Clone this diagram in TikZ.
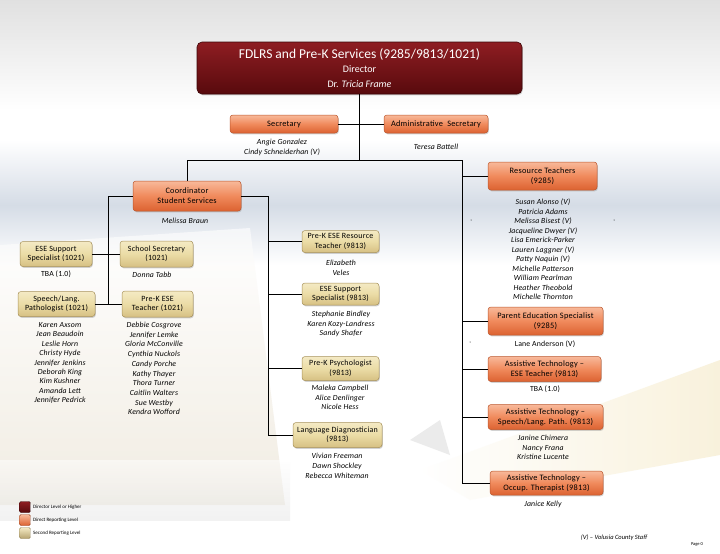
\documentclass[tikz,border=0pt]{standalone}
\usepackage{fontspec}
\setmainfont{Carlito}
\newfontfamily\boxfont[LetterSpace=3]{Carlito}
\newfontfamily\namefont[LetterSpace=2]{Carlito}
\usetikzlibrary{shadows}
\definecolor{dirtop}{HTML}{8E1D22}
\definecolor{dirbot}{HTML}{580A0D}
\definecolor{ortop}{HTML}{F8B99A}
\definecolor{ormid}{HTML}{F08A5C}
\definecolor{orbot}{HTML}{DC6231}
\definecolor{ordraw}{HTML}{BC562C}
\definecolor{tantop}{HTML}{F4EAC4}
\definecolor{tanmid}{HTML}{EBDCA6}
\definecolor{tanbot}{HTML}{D6C083}
\definecolor{tandraw}{HTML}{A8925A}
\definecolor{bandblue}{HTML}{D5DCE6}
\definecolor{pagebeige}{HTML}{E8E0CF}
\definecolor{pencil}{HTML}{F4E7C0}
\newcommand\namelist[6][nm]{%
  \foreach \nmx [count=\i] in {#6} {\node[#1] (#2-\i) at (#3, #4+#5*\i-#5) {\nmx};}}
\begin{document}
\begin{tikzpicture}[x=1pt,y=-1pt,
  sz/.style 2 args={minimum width=#1pt,minimum height=#2pt},
  basebox/.style={rounded corners=3pt, inner sep=0pt, align=center,
    drop shadow={shadow xshift=0.8pt,shadow yshift=-1.3pt,opacity=0.35}},
  dirbox/.style={basebox, rounded corners=5pt, draw=dirbot!70!black, line width=0.6pt,
    top color=dirtop, bottom color=dirbot, text=white, font=\fontsize{10}{14.5}\selectfont},
  obox/.style={basebox, draw=ordraw, line width=0.5pt, top color=ortop, bottom color=orbot,
    middle color=ormid, font=\boxfont\fontsize{8.3}{10}\selectfont},
  tbox/.style={basebox, draw=tandraw, line width=0.5pt, top color=tantop, bottom color=tanbot,
    middle color=tanmid, font=\boxfont\fontsize{8}{9.5}\selectfont},
  nm/.style={inner sep=0pt, anchor=base, font=\namefont\fontsize{7.8}{9}\selectfont\itshape},
  nmup/.style={inner sep=0pt, anchor=base, font=\namefont\fontsize{7.8}{9}\selectfont},
  conn/.style={draw=black, line width=0.7pt},
  legsq/.style={minimum size=11pt, inner sep=0pt, rounded corners=1.5pt, draw=#1!70!black},
  legtxt/.style={inner sep=0pt, anchor=west, font=\fontsize{5}{6}\selectfont},
]
\useasboundingbox (0,0) rectangle (720,554);
% ---------- background (washed-out photo) ----------
\fill[white] (0,0) rectangle (720,554);
\shade[top color=black!12, bottom color=white] (0,0) rectangle (720,110);
\shade[top color=white, bottom color=bandblue] (0,140) rectangle (720,205);
\shade[top color=bandblue, bottom color=white] (0,205) rectangle (720,265);
\shade[top color=white, bottom color=pagebeige, opacity=0.6] (0,245) -- (250,228) -- (285,505) -- (0,505) -- cycle;
\shade[top color=white, bottom color=black!10, opacity=0.5] (0,460) rectangle (290,520);
\shade[left color=white, right color=pencil, opacity=0.55] (420,470) -- (720,360) -- (720,455) -- (470,500) -- cycle;
\fill[black!22, opacity=0.35] (410,440) -- (440,420) -- (450,455) -- cycle;
% ---------- boxes ----------
\node[dirbox, sz={325}{52}] (dir) at (359.5,68)
  {{\fontsize{13.5}{14}\selectfont FDLRS and Pre-K Services (9285/9813/1021)}\\Director\\Dr. \textit{Tricia Frame}};
\node[obox, sz={108}{18}] (sec) at (284,124) {Secretary};
\node[obox, sz={104}{18}] (adm) at (436,124) {Administrative\ \ Secretary};
\node[obox, sz={108}{30}] (coord) at (187,196) {Coordinator\\Student Services};
\node[obox, sz={109}{28}] (res) at (542.5,176) {Resource Teachers\\(9285)};
\node[obox, sz={115}{28}] (par) at (545.5,321) {Parent Education Specialist\\(9285)};
\node[obox, sz={113}{25}] (ate) at (544.5,369) {Assistive Technology –\\ESE Teacher (9813)};
\node[obox, sz={115}{25}] (ats) at (545.5,417) {Assistive Technology –\\Speech/Lang. Path. (9813)};
\node[obox, sz={113}{24}] (ato) at (546.5,483) {Assistive Technology –\\Occup. Therapist (9813)};
\node[tbox, sz={72}{25}] (ese1) at (56,254) {ESE Support\\Specialist (1021)};
\node[tbox, sz={73}{26}] (ssec) at (156.5,254) {School Secretary\\(1021)};
\node[tbox, sz={77}{25}] (slp) at (56.5,304) {Speech/Lang.\\Pathologist (1021)};
\node[tbox, sz={71}{26}] (pket) at (157.5,304) {Pre-K ESE\\Teacher (1021)};
\node[tbox, sz={77}{22}] (pkr) at (340.5,241.5) {Pre-K ESE Resource\\Teacher (9813)};
\node[tbox, sz={77}{22}] (ess) at (340.5,294) {ESE Support\\Specialist (9813)};
\node[tbox, sz={77}{24}] (psy) at (340.5,368.5) {Pre-K Psychologist\\(9813)};
\node[tbox, sz={89}{25}] (lang) at (337.5,435) {Language Diagnostician\\(9813)};
% ---------- connectors ----------
\coordinate (busL) at (187,160);
\coordinate (busR) at (462,160);
\coordinate (trR) at (462,483);
\coordinate (trCL) at (108,196);
\coordinate (trCLb) at (108,304);
\coordinate (trCR) at (268,196);
\coordinate (trCRb) at (268,435);
\draw[conn] (dir.south) -- (dir.south |- busL);
\draw[conn] (sec.east) -- (adm.west);
\draw[conn] (busL) -- (busR) -- (trR) -- (ato.west);
\draw[conn] (busL) -- (coord.north);
\draw[conn] (res.west) -- (res.west -| busR);
\draw[conn] (par.west) -- (par.west -| busR);
\draw[conn] (ate.west) -- (ate.west -| busR);
\draw[conn] (ats.west) -- (ats.west -| busR);
\draw[conn] (coord.west) -- (trCL) -- (trCLb);
\draw[conn] (ese1.east) -- (ssec.west);
\draw[conn] (slp.east) -- (pket.west);
\draw[conn] (coord.east) -- (trCR) -- (trCRb) -- (lang.west);
\draw[conn] (pkr.west) -- (pkr.west -| trCR);
\draw[conn] (ess.west) -- (ess.west -| trCR);
\draw[conn] (psy.west) -- (psy.west -| trCR);
% ---------- names ----------
\namelist{secn}{282}{144}{10}{Angie Gonzalez,Cindy Schneiderhan (V)}
\namelist{admn}{436}{149.5}{10}{Teresa Battell}
\namelist{coordn}{185}{223.5}{10}{Melissa Braun}
\namelist[nmup]{ese1n}{56}{276.5}{10}{TBA (1.0)}
\namelist{ssecn}{152}{277.5}{10}{Donna Tabb}
\namelist{slpn}{60}{327.5}{9.4}{Karen Axsom,Jean Beaudoin,Leslie Horn,Christy Hyde,Jennifer Jenkins,Deborah King,Kim Kushner,Amanda Lett,Jennifer Pedrick}
\namelist{pketn}{154}{327.5}{9.7}{Debbie Cosgrove,Jennifer Lemke,Gloria McConville,Cynthia Nuckols,Candy Porche,Kathy Thayer,Thora Turner,Caitlin Walters,Sue Westby,Kendra Wofford}
\namelist{pkrn}{341}{265.5}{9.5}{Elizabeth,Veles}
\namelist{essn}{341}{316.5}{9.6}{Stephanie Bindley,Karen Kozy-Landress,Sandy Shafer}
\namelist{psyn}{340}{390.5}{9.6}{Maleka Campbell,Alice Denlinger,Nicole Hess}
\namelist{langn}{337}{458.5}{10}{Vivian Freeman,Dawn Shockley,Rebecca Whiteman}
\namelist{resn}{543}{204.5}{9.5}{Susan Alonso (V),Patricia Adams,Melissa Bisest (V),Jacqueline Dwyer (V),Lisa Emerick-Parker,Lauren Laggner (V),Patty Naquin (V),Michelle Patterson,William Pearlman,Heather Theobold,Michelle Thornton}
\namelist[nmup]{parn}{545}{346.5}{10}{Lane Anderson (V)}
\namelist[nmup]{aten}{545}{391.5}{10}{TBA (1.0)}
\namelist{atsn}{543}{440.5}{9.6}{Janine Chimera,Nancy Frana,Kristine Lucente}
\namelist{aton}{543}{506.5}{10}{Janice Kelly}
% stray dots
\fill (471,220) circle (0.5);
\fill (614,220) circle (0.5);
\fill (470,342) circle (0.5);
% ---------- legend ----------
\node[legsq=dirbot, top color=dirtop, bottom color=dirbot] (lg1) at (25,507) {};
\node[legsq=orbot, top color=ortop, bottom color=orbot] (lg2) at (25,520) {};
\node[legsq=tanbot, top color=tantop, bottom color=tanbot!85!black] (lg3) at (25,533) {};
\node[legtxt] (lt1) at (33,507) {Director Level or Higher};
\node[legtxt] (lt2) at (33,520) {Direct Reporting Level};
\node[legtxt] (lt3) at (33,533) {Second Reporting Level};
% ---------- footer ----------
\node[inner sep=0pt, font=\fontsize{6.5}{8}\selectfont\itshape] (vnote) at (614,538) {(V) – Volusia County Staff};
\node[inner sep=0pt, font=\fontsize{4.5}{5}\selectfont] (page) at (697,544) {Page 0};
\end{tikzpicture}
\end{document}
